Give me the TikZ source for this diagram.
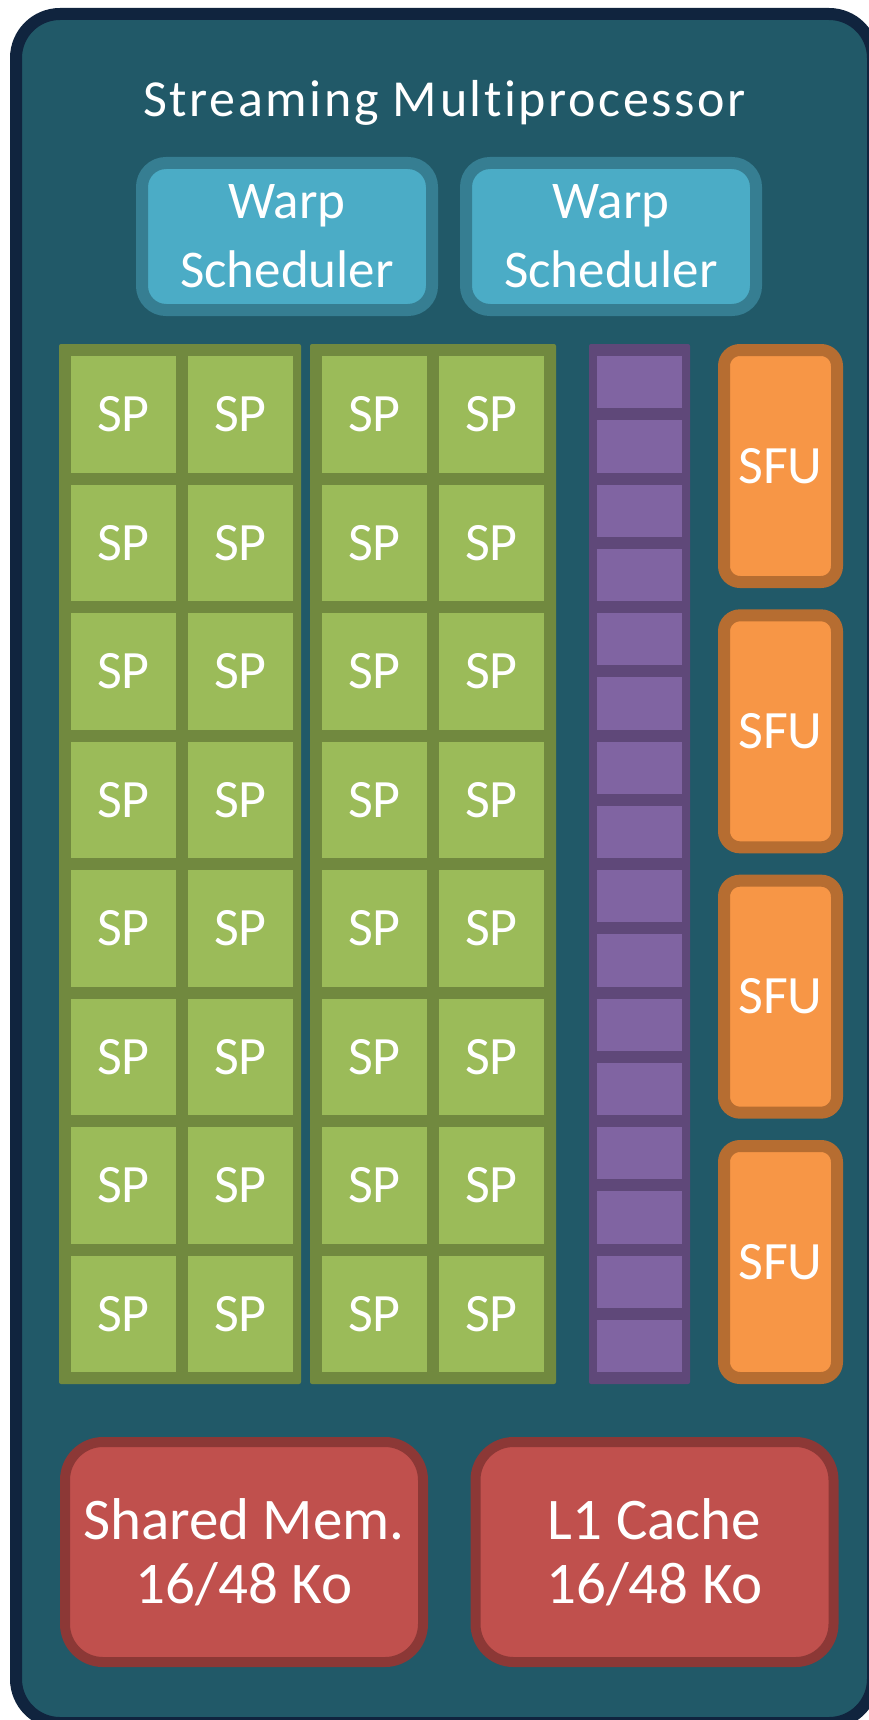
\documentclass[tikz,border=0pt]{standalone}
\usepackage{fontspec}
\setmainfont[Ligatures=NoCommon]{Carlito}
\usepackage{tikz}
\usetikzlibrary{positioning}

\definecolor{cornice}{HTML}{10243E}
\definecolor{fondo}{HTML}{215968}
\definecolor{warpfill}{HTML}{4BACC6}
\definecolor{warpbordo}{HTML}{367E92}
\definecolor{spfill}{HTML}{9BBB59}
\definecolor{spbordo}{HTML}{71893F}
\definecolor{regfill}{HTML}{8064A2}
\definecolor{regbordo}{HTML}{5F4879}
\definecolor{sfufill}{HTML}{F79646}
\definecolor{sfubordo}{HTML}{B66D31}
\definecolor{memfill}{HTML}{C0504D}
\definecolor{membordo}{HTML}{8C3836}

\begin{document}
\begin{tikzpicture}[x=1pt, y=-1pt,
		box/.style={inner sep=0pt, text=white, align=center},
		smbox/.style={box, fill=fondo, draw=cornice, line width=12pt, rounded corners=44pt, minimum width=857pt, minimum height=1709pt},
		warp/.style={box, fill=warpfill, draw=warpbordo, line width=12pt, rounded corners=24pt, minimum width=290pt, minimum height=147pt, font=\fontsize{53}{69}\selectfont},
		sp/.style={box, fill=spfill, minimum width=105pt, minimum height=116.5pt, font=\fontsize{54}{60}\selectfont},
		reg/.style={box, fill=regfill, minimum width=85pt, minimum height=52.25pt},
		sfu/.style={box, fill=sfufill, draw=sfubordo, line width=12pt, rounded corners=16pt, minimum width=113pt, minimum height=232pt, font=\fontsize{54}{60}\selectfont},
		mem/.style={box, fill=memfill, draw=membordo, line width=10pt, rounded corners=38pt, minimum width=358pt, minimum height=220pt, font=\fontsize{59}{64}\selectfont}]
			\useasboundingbox (0,0) rectangle (869,1720);
			\clip (0,0) rectangle (869,1720);
			
			% Cornice
			\node[smbox] (sm) at (444.5,868.5) {};
			\node[text=white, anchor=base, font=\fontsize{52}{60}\selectfont\addfontfeatures{LetterSpace=5}] (titolo) at (444.5,117) {Streaming Multiprocessor};
			
			% Warp scheduler
			\node[warp] (warp1) at (287,236.5) {Warp\\Scheduler};
			\node[warp] (warp2) at (611,236.5) {Warp\\Scheduler};
			
			% Griglia SP
			\fill[spbordo, rounded corners=2pt] (59,344) rectangle (301,1384);
			\fill[spbordo, rounded corners=2pt] (310,344) rectangle (556,1384);
			\foreach \gx [count=\g] in {71,322} {
				\foreach \c in {0,1} {
					\foreach \r in {0,...,7} {
						\node[sp] (sp-\g-\c-\r) at ({\gx+52.5+117*\c},{414.25+128.5*\r}) {SP};
					}
				}
			}
			
			% Registri
			\fill[regbordo, rounded corners=2pt] (589,344) rectangle (690,1384);
			\foreach \i in {0,...,15}
				\node[reg] (reg-\i) at (639.5,{382.125+64.25*\i}) {};
			
			% SFU
			\foreach \i in {0,...,3}
				\node[sfu] (sfu-\i) at (780.5,{466+265.33*\i}) {SFU};
			
			% Memorie
			\node[mem] (shmem) at (244,1552) {Shared Mem.\\16/48 Ko};
			\node[mem] (l1) at (654.5,1552) {L1 Cache\\16/48 Ko};
		\end{tikzpicture}
\end{document}
